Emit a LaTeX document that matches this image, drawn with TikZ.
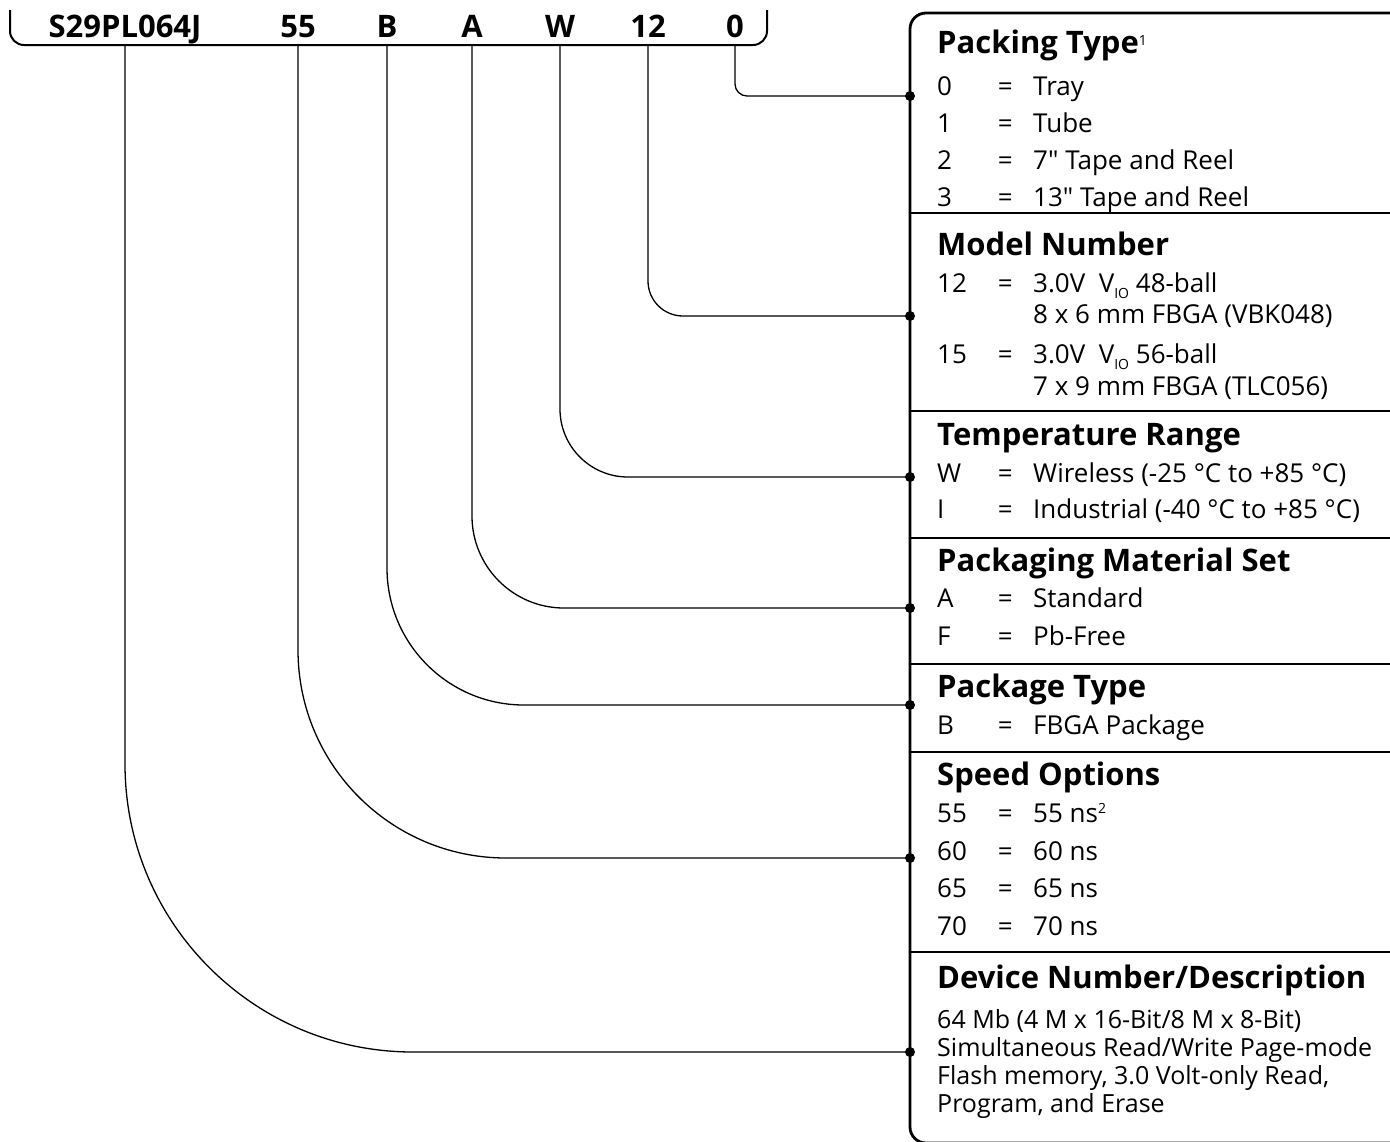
\documentclass[tikz,border=0pt]{standalone}
\usepackage{fontspec}
\setmainfont{Open Sans}[Ligatures=TeXOff]

\newcommand{\entry}[2]{\makebox[56pt][l]{#1}\makebox[24pt][c]{=}\hspace{16pt}#2}
\newcommand{\vio}{V\raisebox{-6pt}{\fontsize{14}{14}\selectfont IO}}

\begin{document}
\begin{tikzpicture}
    [
      x=1pt, y=-1pt,
      conn/.style={line width=1.3pt},
      frame/.style={line width=2.8pt},
      code/.style={anchor=base, inner sep=0, font=\fontsize{31}{31}\bfseries\selectfont},
      head/.style={anchor=base west, inner sep=0, font=\fontsize{31}{31}\bfseries\selectfont},
      row/.style={anchor=base west, inner sep=0, font=\fontsize{26}{26}\selectfont},
      desc/.style={anchor=base west, inner sep=0, font=\fontsize{25}{28}\selectfont, align=left},
    ]
    \useasboundingbox (0,0) rectangle (1390,1141);

    % part number
    \node [code] (cdv) at (125,37) {S29PL064J};
    \node [code] (csp) at (298,37) {55};
    \node [code] (cpk) at (387,37) {B};
    \node [code] (cpm) at (472,37) {A};
    \node [code] (ctr) at (560,37) {W};
    \node [code] (cmn) at (648,37) {12};
    \node [code] (cpt) at (735,37) {0};
    \coordinate (brk) at (0,45);
    \draw [line width=2pt, rounded corners=14pt] (10,10) -- (10,45) -- (767,45) -- (767,10);

    % box
    \draw [frame, rounded corners=16pt] (1395,13) -- (910,13) -- (910,1143) -- (1395,1143);
    \foreach \y in {213,411,538,664,752,952}
      \draw [frame] (910,\y) -- (1395,\y);

    % packing type
    \node [head] (hpt) at (937,53) {Packing Type\raisebox{8pt}{\fontsize{14}{14}\mdseries\selectfont 1}};
    \node [row] (pt0) at (937,95)  {\entry{0}{Tray}};
    \node [row] (pt1) at (937,132) {\entry{1}{Tube}};
    \node [row] (pt2) at (937,169) {\entry{2}{7" Tape and Reel}};
    \node [row] (pt3) at (937,206) {\entry{3}{13" Tape and Reel}};

    % model number
    \node [head] (hmn) at (937,255) {Model Number};
    \node [row] (mn12) at (937,292) {\entry{12}{3.0V\ \ \vio{} 48-ball}};
    \node [row] (mn12b) at (1033,323) {8 x 6 mm FBGA (VBK048)};
    \node [row] (mn15) at (937,363) {\entry{15}{3.0V\ \ \vio{} 56-ball}};
    \node [row] (mn15b) at (1033,395) {7 x 9 mm FBGA (TLC056)};

    % temperature range
    \node [head] (htr) at (937,445) {Temperature Range};
    \node [row] (trw) at (937,482) {\entry{W}{Wireless (-25 °C to +85 °C)}};
    \node [row] (tri) at (937,518) {\entry{I}{Industrial (-40 °C to +85 °C)}};

    % packaging material set
    \node [head] (hpm) at (937,571) {Packaging Material Set};
    \node [row] (pma) at (937,607) {\entry{A}{Standard}};
    \node [row] (pmf) at (937,645) {\entry{F}{Pb-Free}};

    % package type
    \node [head] (hpk) at (937,697) {Package Type};
    \node [row] (pkb) at (937,734) {\entry{B}{FBGA Package}};

    % speed options
    \node [head] (hsp) at (937,785) {Speed Options};
    \node [row] (sp55) at (937,822) {\entry{55}{55 ns\raisebox{9pt}{\fontsize{14}{14}\selectfont 2}}};
    \node [row] (sp60) at (937,860) {\entry{60}{60 ns}};
    \node [row] (sp65) at (937,897) {\entry{65}{65 ns}};
    \node [row] (sp70) at (937,935) {\entry{70}{70 ns}};

    % device number
    \node [head] (hdv) at (937,988) {Device Number/Description};
    \node [desc] (dvt) at (937,1112) {64 Mb (4 M x 16-Bit/8 M x 8-Bit)\\
      Simultaneous Read/Write Page-mode\\
      Flash memory, 3.0 Volt-only Read,\\
      Program, and Erase};

    % connectors
    \foreach \n/\y/\r in {pt/96/12,mn/316/35,tr/477/68,pm/608/92,pk/705/137,sp/858/208,dv/1052/288} {
      \coordinate (d\n) at (910,\y);
      \draw [conn, rounded corners=\r pt] (c\n |- brk) |- (d\n);
      \fill (d\n) circle (5pt);
    }
  \end{tikzpicture}
\end{document}
